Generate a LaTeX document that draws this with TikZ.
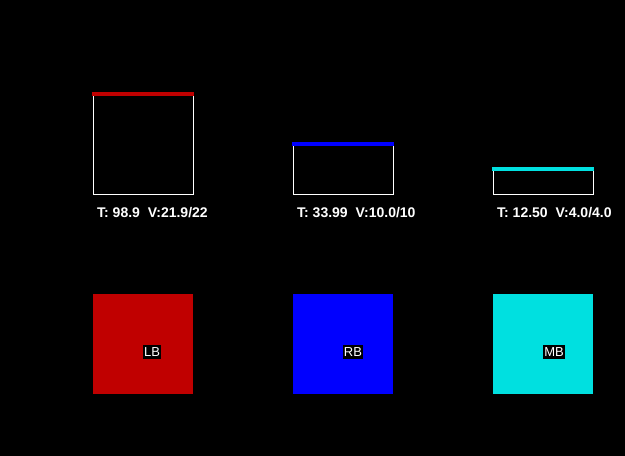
\documentclass[tikz,border=0pt]{standalone}
\usepackage{fontspec}
\setmainfont{Liberation Sans}
\usetikzlibrary{positioning}
\definecolor{lbred}{HTML}{C00000}
\definecolor{rbblue}{HTML}{0000FF}
\definecolor{mbcyan}{HTML}{00E0E0}
\begin{document}
\begin{tikzpicture}[
  x=1pt, y=-1pt,
  tank/.style={
    rectangle, draw=white, line width=1pt, inner sep=0pt, outer sep=0pt,
    minimum width=100pt, anchor=south west
  },
  level/.style={line width=4pt},
  readout/.style={
    text=white, font=\fontsize{14}{16}\selectfont\bfseries,
    inner sep=0pt, anchor=base west
  },
  bin/.style={
    rectangle, inner sep=0pt, outer sep=0pt,
    minimum width=100pt, minimum height=100pt, anchor=north west
  },
  tag/.style={
    fill=black, text=white, font=\fontsize{13}{15}\selectfont,
    inner xsep=1pt, inner ysep=3pt
  },
]
% fond
\fill[black] (0,0) rectangle (625,456);

% Reservoirs
\node[tank, minimum height=100pt] (tankL) at (93,194) {};
\node[tank, minimum height=50pt] (tankR) at (293,194) {};
\node[tank, minimum height=25pt] (tankM) at (493,194) {};

% Niveaux
\draw[level, lbred] ([xshift=-1pt]tankL.north west) -- ([xshift=1pt]tankL.north east);
\draw[level, rbblue] ([xshift=-1pt]tankR.north west) -- ([xshift=1pt]tankR.north east);
\draw[level, mbcyan] ([xshift=-1pt]tankM.north west) -- ([xshift=1pt]tankM.north east);

% Valeurs
\node[readout] (infoL) at (97,217) {T: 98.9\ \ V:21.9/22};
\node[readout] (infoR) at (297,217) {T: 33.99\ \ V:10.0/10};
\node[readout] (infoM) at (497,217) {T: 12.50\ \ V:4.0/4.0};

% Blocs
\node[bin, fill=lbred] (binL) at (93,294) {};
\node[bin, fill=rbblue] (binR) at (293,294) {};
\node[bin, fill=mbcyan] (binM) at (493,294) {};

\node[tag] (tagL) at (152,352) {LB};
\node[tag] (tagR) at (353,352) {RB};
\node[tag] (tagM) at (554,352) {MB};

\end{tikzpicture}
\end{document}
